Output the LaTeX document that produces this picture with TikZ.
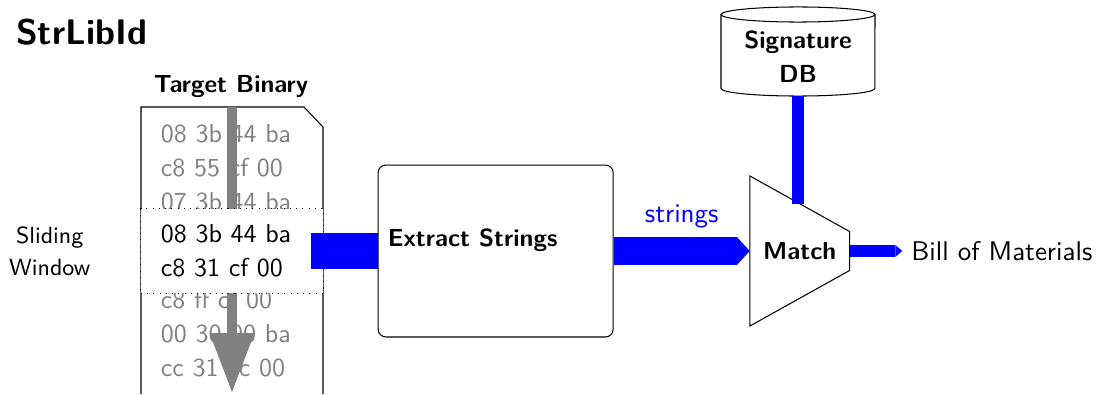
\documentclass[tikz,border=0pt]{standalone}
\usetikzlibrary{positioning}
\usetikzlibrary{arrows.meta, calc}

\begin{document}
\begin{tikzpicture}[x=0.385pt, y=-0.385pt, font=\sffamily,
  heading/.style={font=\sffamily\bfseries\fontsize{9.5}{12.5}\selectfont},
  outtext/.style={font=\sffamily\fontsize{10.4}{12.6}\selectfont},
  hexlines/.style={align=left, text width=54.7pt, inner xsep=7.7pt, inner ysep=0pt, font=\sffamily\fontsize{10}{13}\selectfont},
  pipe/.style={draw=blue, line width=#1},
  tipend/.style 2 args={-{Triangle[length=#1, width=#2, line width=0pt]}}]

\useasboundingbox (0,0) rectangle (1098,394);

% Nodes
\node[font=\sffamily\bfseries\fontsize{13.7}{16}\selectfont, anchor=base west] (title) at (7,45) {StrLibId};
\node[heading, anchor=base] (target) at (231,93) {Target Binary};

% the binary file
\draw (141,394) -- (141,107) -- (304,107) -- (323,127) -- (323,394);
\node[hexlines, text=gray, anchor=north] (hexup) at (232,124) {08 3b 44 ba\\c8 55 cf 00\\07 3b 44 ba};
\node[hexlines, text=gray, anchor=north] (hexdown) at (232,290) {c8 ff cf 00\\00 30 00 ba\\cc 31 cc 00};
\coordinate (scantop) at (232,107);
\coordinate (scanend) at (232,392);
\draw[gray, line width=4.2pt, -{Triangle[length=22.7pt, width=17.3pt, line width=0pt]}] (scantop) -- (scanend);

\node[hexlines, draw, dotted, fill=white, minimum height=32.7pt] (window) at (232,251) {08 3b 44 ba\\c8 31 cf 00};
\node[font=\sffamily\fontsize{9}{12.3}\selectfont, align=center, left=15.8pt of window] (slide) {Sliding\\Window};

\node[draw, rounded corners=3pt, minimum width=90.5pt, minimum height=66.2pt, right=20.8pt of window] (extract) {};
\node[heading, anchor=base west] (extractlbl) at ($(extract.west)+(1,-5)$) {Extract Strings};

\node[heading, inner xsep=0pt, minimum width=38pt, minimum height=57.4pt, right=52.4pt of extract] (match) {Match};
\coordinate (mne) at ($(match.east)+(0,-19.5)$);
\coordinate (mse) at ($(match.east)+(0,19.5)$);
\coordinate (mtop) at ($(match.north west)!0.5!(mne)$);
\draw (match.north west) -- (mne) -- (mse) -- (match.south west) -- cycle;

% signature database
\node[heading, font=\sffamily\bfseries\fontsize{9.5}{13}\selectfont, align=center, minimum width=59.3pt, minimum height=30pt] (db) at (798,57) {Signature\\DB};
\draw ($(db.center)+(-77,-42.5)$) -- ($(db.center)+(-77,31.5)$) arc[start angle=180, end angle=360, x radius=29.6pt, y radius=2.9pt] -- ($(db.center)+(77,-42.5)$);
\draw ($(db.center)+(0,-42.5)$) ellipse [x radius=29.6pt, y radius=2.9pt];

\node[outtext, right=20.3pt of match] (bom) {Bill of Materials};

% Arrows
\draw[pipe=13.5pt] ([xshift=-5pt]window.east) -- (extract.west);
\draw[pipe=10.8pt, tipend={5pt}{10.8pt}] (extract.east) -- node[midway, anchor=base, yshift=10.8pt, outtext, text=blue] {strings} (match.west);
\draw[pipe=4.4pt] (db.south) -- (db |- mtop);
\draw[pipe=4.6pt, tipend={2.7pt}{4.6pt}] (match.east) -- (bom.west);

\end{tikzpicture}
\end{document}
